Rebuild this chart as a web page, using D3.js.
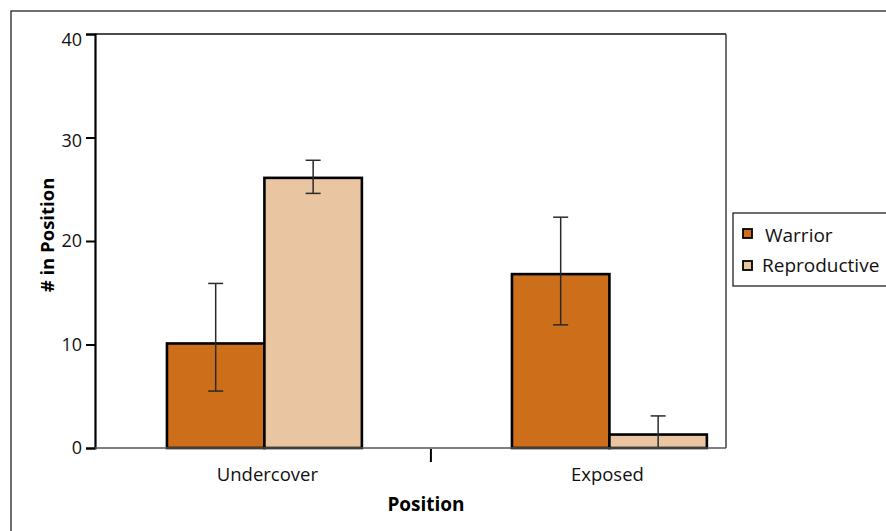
<!DOCTYPE html>
<html>
<head>
<meta charset="utf-8">
<script src="https://cdn.jsdelivr.net/npm/d3@7"></script>
<style>
  html, body { margin: 0; padding: 0; background: #fff; }
  svg { display: block; font-family: "Open Sans", "Noto Sans", sans-serif; }
</style>
</head>
<body>
<svg id="chart" width="886" height="531"></svg>
<script>
// Mean count in each position, with error bar limits
const categories = ["Undercover", "Exposed"];
const seriesNames = ["Warrior", "Reproductive"];
const warriorMean = [10.1, 16.8];
const warriorLow = [5.5, 11.9];
const warriorHigh = [15.9, 22.3];
const reproMean = [26.1, 1.3];
const reproLow = [24.6, 0];
const reproHigh = [27.8, 3.1];
const yTicks = [0, 10, 20, 30, 40];
const colors = ["#cd6e1b", "#e9c6a1"];

const series = [
  { name: seriesNames[0], mean: warriorMean, low: warriorLow, high: warriorHigh, color: colors[0] },
  { name: seriesNames[1], mean: reproMean, low: reproLow, high: reproHigh, color: colors[1] }
];

const svg = d3.select("#chart");

// outer border
svg.append("rect")
  .attr("x", 11).attr("y", 11).attr("width", 900).attr("height", 540)
  .attr("fill", "none").attr("stroke", "#222").attr("stroke-width", 1.3);

const plot = { left: 95, right: 726, top: 34, bottom: 448 };

const y = d3.scaleLinear().domain([0, 40]).range([plot.bottom, plot.top]);
const x0 = d3.scaleBand().domain(categories)
  .range([plot.left, plot.right])
  .paddingInner(0.435).paddingOuter(0.132).align(0.79);
const x1 = d3.scaleBand().domain(seriesNames).range([0, x0.bandwidth()]).padding(0);

// plot frame: top and right edges
svg.append("line").attr("x1", plot.left).attr("x2", plot.right)
  .attr("y1", plot.top).attr("y2", plot.top)
  .attr("stroke", "#111").attr("stroke-width", 1.6);
svg.append("line").attr("x1", plot.right).attr("x2", plot.right)
  .attr("y1", plot.top).attr("y2", plot.bottom)
  .attr("stroke", "#333").attr("stroke-width", 1.4);

// bars
const groups = svg.append("g").selectAll("g")
  .data(categories)
  .join("g")
  .attr("transform", d => `translate(${x0(d)},0)`);

groups.selectAll("rect")
  .data((c, i) => series.map(s => ({ s, v: s.mean[i] })))
  .join("rect")
  .attr("x", d => x1(d.s.name))
  .attr("y", d => y(d.v))
  .attr("width", x1.bandwidth())
  .attr("height", d => y(0) - y(d.v))
  .attr("fill", d => d.s.color)
  .attr("stroke", "#000")
  .attr("stroke-width", 2.6);

// error bars
const capW = 15;
const errs = groups.selectAll("g.err")
  .data((c, i) => series.map(s => ({ s, lo: s.low[i], hi: s.high[i] })))
  .join("g").attr("class", "err")
  .attr("transform", d => `translate(${x1(d.s.name) + x1.bandwidth() / 2},0)`)
  .attr("stroke", "#2a2a2a").attr("stroke-width", 1.5);
errs.append("line").attr("y1", d => y(d.lo)).attr("y2", d => y(d.hi));
errs.append("line").attr("x1", -capW / 2).attr("x2", capW / 2)
  .attr("y1", d => y(d.hi)).attr("y2", d => y(d.hi));
errs.filter(d => d.lo > 0).append("line").attr("x1", -capW / 2).attr("x2", capW / 2)
  .attr("y1", d => y(d.lo)).attr("y2", d => y(d.lo));

// y axis
const yAxis = svg.append("g")
  .attr("transform", `translate(${plot.left},0)`)
  .call(d3.axisLeft(y).tickValues(yTicks).tickSize(9).tickPadding(4));
yAxis.select(".domain").attr("stroke", "#000").attr("stroke-width", 2.2);
yAxis.selectAll(".tick line").attr("stroke", "#000").attr("stroke-width", 2);
yAxis.selectAll(".tick text").attr("font-size", 18).attr("fill", "#111")
  .attr("font-family", "Open Sans, sans-serif")
  .attr("y", d => d === 40 ? 6 : d === 30 ? 3 : 0);

// x axis
const xAxis = svg.append("g")
  .attr("transform", `translate(0,${plot.bottom})`);
xAxis.append("line").attr("x1", plot.left).attr("x2", plot.right)
  .attr("stroke", "#555").attr("stroke-width", 1.6);
const midX = (x0("Undercover") + x0.bandwidth() + x0("Exposed")) / 2 - 6;
xAxis.append("line")
  .attr("x1", midX).attr("x2", midX)
  .attr("y1", 1).attr("y2", 14)
  .attr("stroke", "#000").attr("stroke-width", 2);
xAxis.selectAll("text.cat")
  .data(categories)
  .join("text").attr("class", "cat")
  .attr("x", (d, i) => x0(d) + x0.bandwidth() / 2 + (i === 0 ? 3 : -2))
  .attr("y", 33)
  .attr("text-anchor", "middle")
  .attr("font-size", 18.5).attr("fill", "#111")
  .text(d => d);

// axis titles
svg.append("text")
  .attr("x", 426).attr("y", 511)
  .attr("text-anchor", "middle")
  .attr("font-size", 19).attr("font-weight", "bold").attr("fill", "#000")
  .text("Position");
svg.append("text")
  .attr("transform", "translate(54,235) rotate(-90)")
  .attr("text-anchor", "middle")
  .attr("font-size", 18.5).attr("font-weight", "bold").attr("fill", "#000")
  .text("# in Position");

// legend
const legend = svg.append("g");
legend.append("rect")
  .attr("x", 733).attr("y", 213).attr("width", 170).attr("height", 73)
  .attr("fill", "#fff").attr("stroke", "#222").attr("stroke-width", 1.3);
const items = legend.selectAll("g.item")
  .data(series)
  .join("g").attr("class", "item")
  .attr("transform", (d, i) => `translate(743,${229 + i * 32})`);
items.append("rect")
  .attr("width", 9).attr("height", 9)
  .attr("fill", d => d.color).attr("stroke", "#000").attr("stroke-width", 1.8);
items.append("text")
  .attr("x", (d, i) => i === 0 ? 22 : 19)
  .attr("y", (d, i) => i === 0 ? 13 : 11)
  .attr("font-size", 19).attr("fill", "#111")
  .text(d => d.name);
</script>
</body>
</html>
